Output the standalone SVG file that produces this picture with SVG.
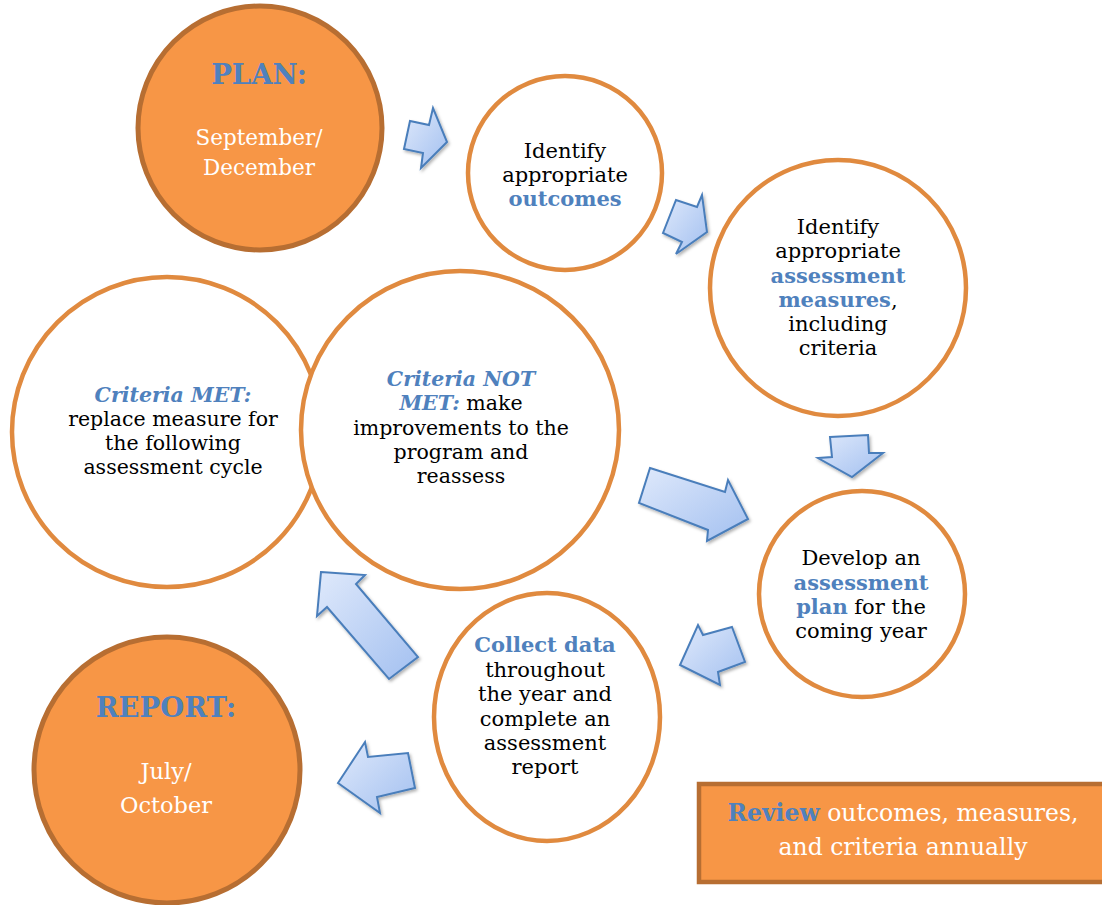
<svg xmlns="http://www.w3.org/2000/svg" width="1102" height="905" viewBox="0 0 1102 905">
<defs>
<linearGradient id="ag" x1="0" y1="0" x2="1" y2="1">
<stop offset="0" stop-color="#DFE9FB"/>
<stop offset="1" stop-color="#A3C0F0"/>
</linearGradient>
<filter id="sh" x="-20%" y="-20%" width="150%" height="150%">
<feDropShadow dx="1.5" dy="2" stdDeviation="1.5" flood-color="#000" flood-opacity="0.3"/>
</filter>
<style>
.wc{fill:#fff;stroke:#E08A3F;stroke-width:4.5}
.oc{fill:#F79646;stroke:#B76E32;stroke-width:5}
.arr{fill:url(#ag);stroke:#4A7EBB;stroke-width:2;stroke-linejoin:miter;filter:url(#sh)}
text{font-family:"DejaVu Serif","Liberation Serif",serif;text-anchor:middle}
.t{font-size:21px;fill:#000}
.s{font-size:20.5px}
.b{font-weight:bold;fill:#4F81BD}
.bi{font-weight:bold;font-style:italic;fill:#4F81BD}
.h{font-size:27.5px;font-weight:bold;fill:#4F81BD}
.w{font-size:21.5px;fill:#fff}
.w2{font-size:22.5px;fill:#fff}
.r{font-size:23.5px;fill:#fff}
</style>
</defs>
<g id="connectors">
<polygon class="arr" points="404,149 410,121 429,125 433,108 447,142 421,168 423,153"/>
<polygon class="arr" points="663,233 676,200 697,207 702,195 707,232 676,254 682,242"/>
<polygon class="arr" points="830,437 868,435 869,453 883,453 852,477 818,458 832,457"/>
<polygon class="arr" points="650,468 725,492 728,480 748,519 707,541 708,530 639,503"/>
<polygon class="arr" points="732,627 745,662 718,672 720,685 680,665 698,625 703,635"/>
<polygon class="arr" points="321,572 365,575 356,584 418,657 389,679 327,607 317,616"/>
<polygon class="arr" points="338,783 365,742 368,757 408,753 415,788 377,797 380,813"/>
</g>
<g id="plan">
<circle class="oc" cx="260" cy="128" r="122"/>
<text class="h" x="259" y="84">PLAN:</text>
<text class="w" x="259" y="145">September/</text>
<text class="w" x="259" y="175">December</text>
</g>
<g id="outcomes">
<circle class="wc" cx="565" cy="173" r="97"/>
<text class="t" x="565" y="158">Identify</text>
<text class="t" x="565" y="182">appropriate</text>
<text class="t b" x="565" y="206">outcomes</text>
</g>
<g id="measures">
<circle class="wc" cx="838" cy="288" r="128"/>
<text class="t" x="838" y="234">Identify</text>
<text class="t" x="838" y="258">appropriate</text>
<text class="t b" x="838" y="283">assessment</text>
<text class="t" x="838" y="307"><tspan class="b">measures</tspan>,</text>
<text class="t" x="838" y="331">including</text>
<text class="t" x="838" y="355">criteria</text>
</g>
<g id="plan-develop">
<circle class="wc" cx="862" cy="594" r="103"/>
<text class="t" x="861" y="565">Develop an</text>
<text class="t b" x="861" y="590">assessment</text>
<text class="t" x="861" y="614"><tspan class="b">plan</tspan> for the</text>
<text class="t" x="861" y="638">coming year</text>
</g>
<g id="collect">
<ellipse class="wc" cx="547" cy="717" rx="113" ry="124"/>
<text class="t b" x="545" y="652">Collect data</text>
<text class="t" x="545" y="677">throughout</text>
<text class="t" x="545" y="701">the year and</text>
<text class="t" x="545" y="726">complete an</text>
<text class="t" x="545" y="750">assessment</text>
<text class="t" x="545" y="774">report</text>
</g>
<g id="criteria-met">
<circle class="wc" cx="167" cy="432" r="155"/>
<text class="t s bi" x="173" y="402">Criteria MET:</text>
<text class="t s" x="173" y="426">replace measure for</text>
<text class="t s" x="173" y="450">the following</text>
<text class="t s" x="173" y="474">assessment cycle</text>
</g>
<g id="criteria-not-met">
<circle class="wc" cx="460" cy="430" r="159"/>
<text class="t s bi" x="461" y="386">Criteria NOT</text>
<text class="t s" x="461" y="410"><tspan class="bi">MET:</tspan> make</text>
<text class="t s" x="461" y="435">improvements to the</text>
<text class="t s" x="461" y="459">program and</text>
<text class="t s" x="461" y="483">reassess</text>
</g>
<g id="report">
<circle class="oc" cx="167" cy="770" r="133"/>
<text class="h" x="166" y="717">REPORT:</text>
<text class="w2" x="166" y="779">July/</text>
<text class="w2" x="166" y="813">October</text>
</g>
<g id="review">
<rect x="699" y="784" width="408" height="98" fill="#F79646" stroke="#B76E32" stroke-width="4.5"/>
<text class="r" x="903" y="821"><tspan font-weight="bold" fill="#4F81BD">Review</tspan> outcomes, measures,</text>
<text class="r" x="903" y="855">and criteria annually</text>
</g>
</svg>
